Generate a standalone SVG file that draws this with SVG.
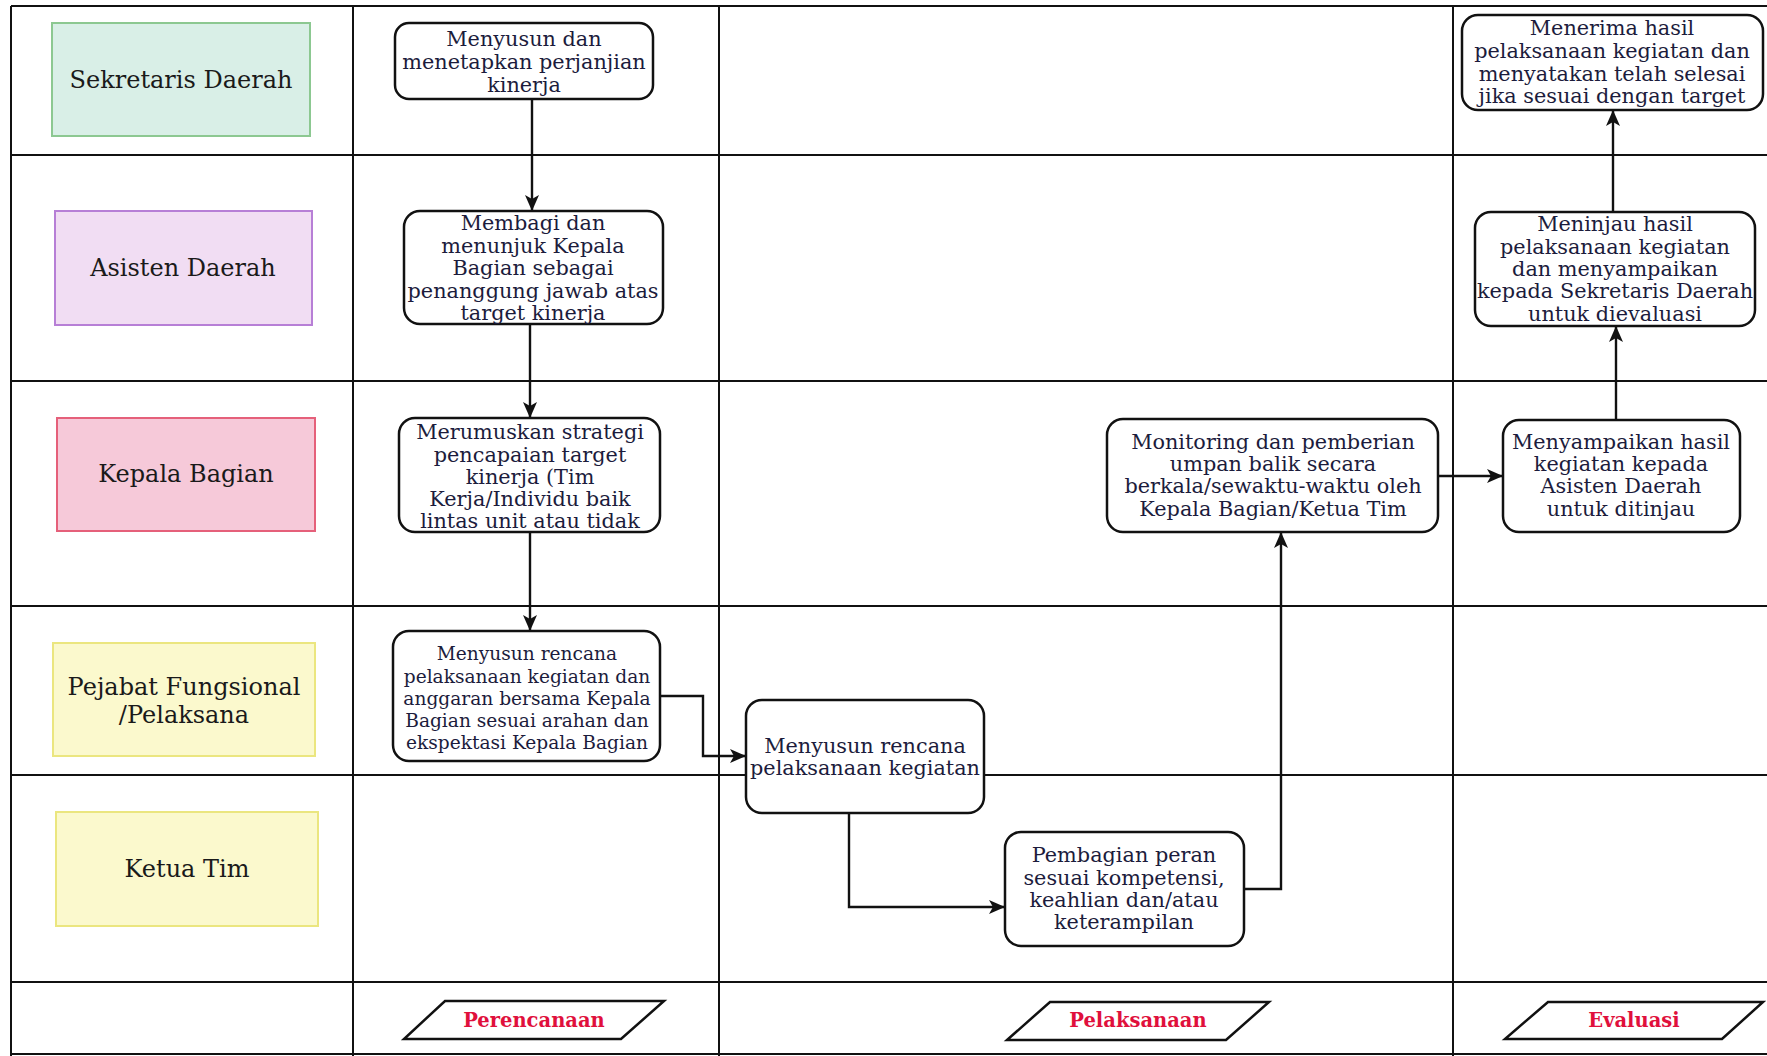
<svg xmlns="http://www.w3.org/2000/svg" width="1767" height="1056" viewBox="0 0 1767 1056">
<defs>
<marker id="arr" viewBox="0 0 16 14" refX="15" refY="7" markerWidth="16" markerHeight="14" markerUnits="userSpaceOnUse" orient="auto">
<path d="M0,0 L16,7 L0,14 L4,7 Z" fill="#111"/>
</marker>
<style>
.grid{stroke:#111;stroke-width:2;fill:none}
.lane text{font-family:"DejaVu Serif","Liberation Serif",serif;font-size:24px;fill:#1a1a1a;text-anchor:middle}
.node rect{fill:#fff;stroke:#111;stroke-width:2.5}
.node text{font-family:"DejaVu Serif","Liberation Serif",serif;font-size:20.8px;fill:#1c1c3c;text-anchor:middle}
.small text{font-size:18.6px}
.conn path{stroke:#111;stroke-width:2.4;fill:none;marker-end:url(#arr)}
.phase polygon{fill:#fff;stroke:#111;stroke-width:2.5}
.phase text{font-family:"DejaVu Serif","Liberation Serif",serif;font-size:19.5px;font-weight:bold;fill:#e0103c;text-anchor:middle}
</style>
</defs>
<rect width="1767" height="1056" fill="#fff"/>
<g id="grid" class="grid">
<line x1="11" y1="6" x2="1767" y2="6"/>
<line x1="11" y1="6" x2="11" y2="1056"/>
<line x1="353" y1="6" x2="353" y2="1056"/>
<line x1="719" y1="6" x2="719" y2="1056"/>
<line x1="1453" y1="6" x2="1453" y2="1056"/>
<line x1="11" y1="155" x2="1767" y2="155"/>
<line x1="11" y1="381" x2="1767" y2="381"/>
<line x1="11" y1="606" x2="1767" y2="606"/>
<line x1="11" y1="775" x2="1767" y2="775"/>
<line x1="11" y1="982" x2="1767" y2="982"/>
<line x1="11" y1="1054" x2="1767" y2="1054"/>
</g>
<g id="lane-sekda" class="lane">
<rect x="52" y="23" width="258" height="113" fill="#d9efe7" stroke="#8cc891" stroke-width="2"/>
<text x="181" y="88">Sekretaris Daerah</text>
</g>
<g id="lane-asda" class="lane">
<rect x="55" y="211" width="257" height="114" fill="#f1ddf3" stroke="#b77fd6" stroke-width="2"/>
<text x="183" y="276">Asisten Daerah</text>
</g>
<g id="lane-kabag" class="lane">
<rect x="57" y="418" width="258" height="113" fill="#f6c9d9" stroke="#e5607a" stroke-width="2"/>
<text x="186" y="482">Kepala Bagian</text>
</g>
<g id="lane-pejabat" class="lane">
<rect x="53" y="643" width="262" height="113" fill="#fbf9cd" stroke="#ebe67f" stroke-width="2"/>
<text x="184" y="695">Pejabat Fungsional</text>
<text x="184" y="723">/Pelaksana</text>
</g>
<g id="lane-ketua" class="lane">
<rect x="56" y="812" width="262" height="114" fill="#fbf9cd" stroke="#ebe67f" stroke-width="2"/>
<text x="187" y="877">Ketua Tim</text>
</g>
<g id="connectors" class="conn">
<path d="M532,99 L532,210"/>
<path d="M530,324 L530,417"/>
<path d="M530,532 L530,630"/>
<path d="M660,696 L703,696 L703,756 L745,756"/>
<path d="M849,813 L849,907 L1004,907"/>
<path d="M1244,889 L1281,889 L1281,533"/>
<path d="M1438,476 L1502,476"/>
<path d="M1616,420 L1616,327"/>
<path d="M1613,212 L1613,111"/>
</g>
<g id="n1" class="node">
<rect x="395" y="23" width="258" height="76" rx="14"/>
<text><tspan x="524" y="46">Menyusun dan</tspan><tspan x="524" y="69">menetapkan perjanjian</tspan><tspan x="524" y="92">kinerja</tspan></text>
</g>
<g id="n2" class="node">
<rect x="404" y="211" width="259" height="113" rx="16"/>
<text><tspan x="533" y="230">Membagi dan</tspan><tspan x="533" y="253">menunjuk Kepala</tspan><tspan x="533" y="275">Bagian sebagai</tspan><tspan x="533" y="298">penanggung jawab atas</tspan><tspan x="533" y="320">target kinerja</tspan></text>
</g>
<g id="n3" class="node">
<rect x="399" y="418" width="261" height="114" rx="16"/>
<text><tspan x="530" y="439">Merumuskan strategi</tspan><tspan x="530" y="462">pencapaian target</tspan><tspan x="530" y="484">kinerja (Tim</tspan><tspan x="530" y="506">Kerja/Individu baik</tspan><tspan x="530" y="528">lintas unit atau tidak</tspan></text>
</g>
<g id="n4" class="node small">
<rect x="393" y="631" width="267" height="130" rx="16"/>
<text><tspan x="527" y="660">Menyusun rencana</tspan><tspan x="527" y="683">pelaksanaan kegiatan dan</tspan><tspan x="527" y="705">anggaran bersama Kepala</tspan><tspan x="527" y="727">Bagian sesuai arahan dan</tspan><tspan x="527" y="749">ekspektasi Kepala Bagian</tspan></text>
</g>
<g id="n5" class="node">
<rect x="746" y="700" width="238" height="113" rx="16"/>
<text><tspan x="865" y="753">Menyusun rencana</tspan><tspan x="865" y="775">pelaksanaan kegiatan</tspan></text>
</g>
<g id="n6" class="node">
<rect x="1005" y="832" width="239" height="114" rx="16"/>
<text><tspan x="1124" y="862">Pembagian peran</tspan><tspan x="1124" y="885">sesuai kompetensi,</tspan><tspan x="1124" y="907">keahlian dan/atau</tspan><tspan x="1124" y="929">keterampilan</tspan></text>
</g>
<g id="n7" class="node">
<rect x="1107" y="419" width="331" height="113" rx="16"/>
<text><tspan x="1273" y="449">Monitoring dan pemberian</tspan><tspan x="1273" y="471">umpan balik secara</tspan><tspan x="1273" y="493">berkala/sewaktu-waktu oleh</tspan><tspan x="1273" y="516">Kepala Bagian/Ketua Tim</tspan></text>
</g>
<g id="n8" class="node">
<rect x="1503" y="420" width="237" height="112" rx="16"/>
<text><tspan x="1621" y="449">Menyampaikan hasil</tspan><tspan x="1621" y="471">kegiatan kepada</tspan><tspan x="1621" y="493">Asisten Daerah</tspan><tspan x="1621" y="516">untuk ditinjau</tspan></text>
</g>
<g id="n9" class="node">
<rect x="1475" y="212" width="280" height="114" rx="16"/>
<text><tspan x="1615" y="231">Meninjau hasil</tspan><tspan x="1615" y="254">pelaksanaan kegiatan</tspan><tspan x="1615" y="276">dan menyampaikan</tspan><tspan x="1615" y="298">kepada Sekretaris Daerah</tspan><tspan x="1615" y="321">untuk dievaluasi</tspan></text>
</g>
<g id="n10" class="node">
<rect x="1462" y="15" width="301" height="95" rx="16"/>
<text><tspan x="1612" y="35">Menerima hasil</tspan><tspan x="1612" y="58">pelaksanaan kegiatan dan</tspan><tspan x="1612" y="81">menyatakan telah selesai</tspan><tspan x="1612" y="103">jika sesuai dengan target</tspan></text>
</g>
<g id="phase-perencanaan" class="phase">
<polygon points="445,1001 664,1001 621,1039 404,1039"/>
<text x="534" y="1027">Perencanaan</text>
</g>
<g id="phase-pelaksanaan" class="phase">
<polygon points="1050,1002 1269,1002 1226,1040 1007,1040"/>
<text x="1138" y="1027">Pelaksanaan</text>
</g>
<g id="phase-evaluasi" class="phase">
<polygon points="1548,1002 1763,1002 1722,1039 1505,1039"/>
<text x="1634" y="1027">Evaluasi</text>
</g>
</svg>
